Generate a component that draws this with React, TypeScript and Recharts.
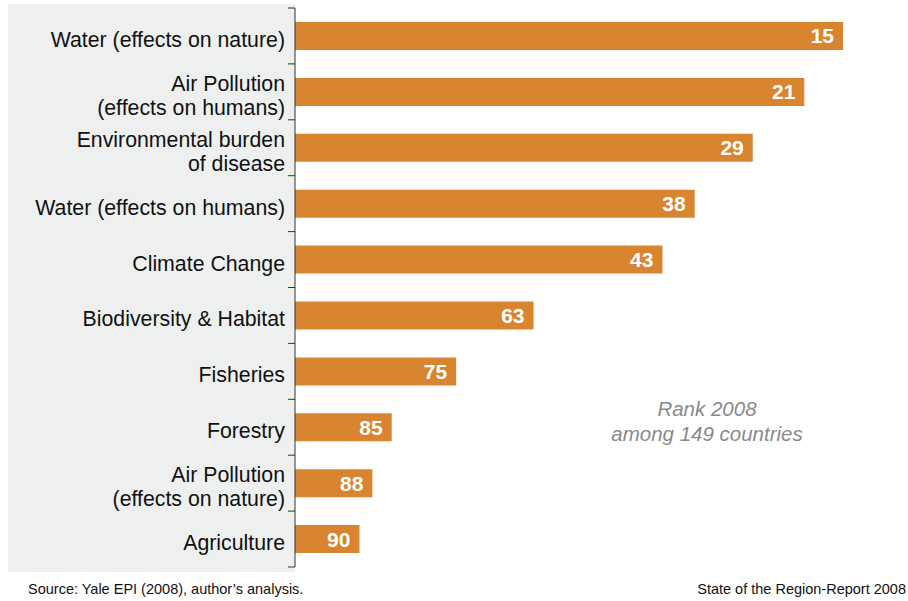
import React from 'react';
import { BarChart, Bar, XAxis, YAxis, LabelList } from 'recharts';

const categories = [
  'Water (effects on nature)',
  'Air Pollution\n(effects on humans)',
  'Environmental burden\nof disease',
  'Water (effects on humans)',
  'Climate Change',
  'Biodiversity & Habitat',
  'Fisheries',
  'Forestry',
  'Air Pollution\n(effects on nature)',
  'Agriculture',
];
const ranks = [15, 21, 29, 38, 43, 63, 75, 85, 88, 90];
// bar length grows as the rank gets better: drawn as (RANK_BASE - rank)
const RANK_BASE = 100;

const data = categories.map((name, i) => ({
  name,
  rank: ranks[i],
  score: RANK_BASE - ranks[i],
}));

const W = 908;
const H = 601;
const LEFT = 8;
const AXIS_W = 287;
const TOP = 8;
const BOTTOM = 34;
const AXIS_X = LEFT + AXIS_W;
const BAND = (H - TOP - BOTTOM) / categories.length;
const FONT = '"Liberation Sans", Arial, sans-serif';

const CategoryTick = (props: any) => {
  const { y, payload, index } = props;
  const lines = String(payload.value).split('\n');
  const lh = 24;
  const y0 = y + 4 - ((lines.length - 1) * lh) / 2;
  return (
    <g>
      <line x1={AXIS_X - 7} x2={AXIS_X} y1={y - BAND / 2} y2={y - BAND / 2} stroke="#333" />
      {index === categories.length - 1 && (
        <line x1={AXIS_X - 7} x2={AXIS_X} y1={y + BAND / 2} y2={y + BAND / 2} stroke="#333" />
      )}
      <text x={AXIS_X - 10} y={y0} textAnchor="end" dominantBaseline="central" fontSize={21.3} fill="#111" fontFamily={FONT}>
        {lines.map((l, k) => (
          <tspan key={k} x={AXIS_X - 10} dy={k === 0 ? 0 : lh}>
            {l}
          </tspan>
        ))}
      </text>
    </g>
  );
};

export default function App() {
  return (
    <div style={{ position: 'absolute', left: 0, top: 0, width: W, height: H, background: '#fff', fontFamily: FONT }}>
      <div style={{ position: 'absolute', left: 8, top: 4, width: AXIS_X - 8, height: 568, background: '#edf0ef' }} />
      <div style={{ position: 'absolute', left: 0, top: 0 }}>
        <BarChart
          width={W}
          height={H}
          layout="vertical"
          data={data}
          margin={{ top: TOP, right: 65, left: LEFT, bottom: BOTTOM }}
          barCategoryGap="25%"
        >
          <XAxis type="number" hide domain={[0, 85]} />
          <YAxis
            dataKey="name"
            type="category"
            width={AXIS_W}
            axisLine={{ stroke: '#333' }}
            tickLine={false}
            tick={<CategoryTick />}
            interval={0}
          />
          <Bar dataKey="score" fill="#d9852f" isAnimationActive={false}>
            <LabelList
              dataKey="rank"
              position="insideRight"
              offset={9}
              fill="#fff"
              fontSize={21}
              fontWeight="bold"
              fontFamily={FONT}
            />
          </Bar>
        </BarChart>
      </div>
      <div style={{ position: 'absolute', left: 597, width: 220, top: 396, textAlign: 'center', color: '#8a8a8a', fontStyle: 'italic', fontSize: 20.5, lineHeight: '25px' }}>
        Rank 2008
        <br />
        among 149 countries
      </div>
      <div style={{ position: 'absolute', left: 28, top: 581, fontSize: 14.5, color: '#111' }}>
        Source: Yale EPI (2008), author’s analysis.
      </div>
      <div style={{ position: 'absolute', right: 2, top: 581, fontSize: 14.5, color: '#111' }}>
        State of the Region-Report 2008
      </div>
    </div>
  );
}
